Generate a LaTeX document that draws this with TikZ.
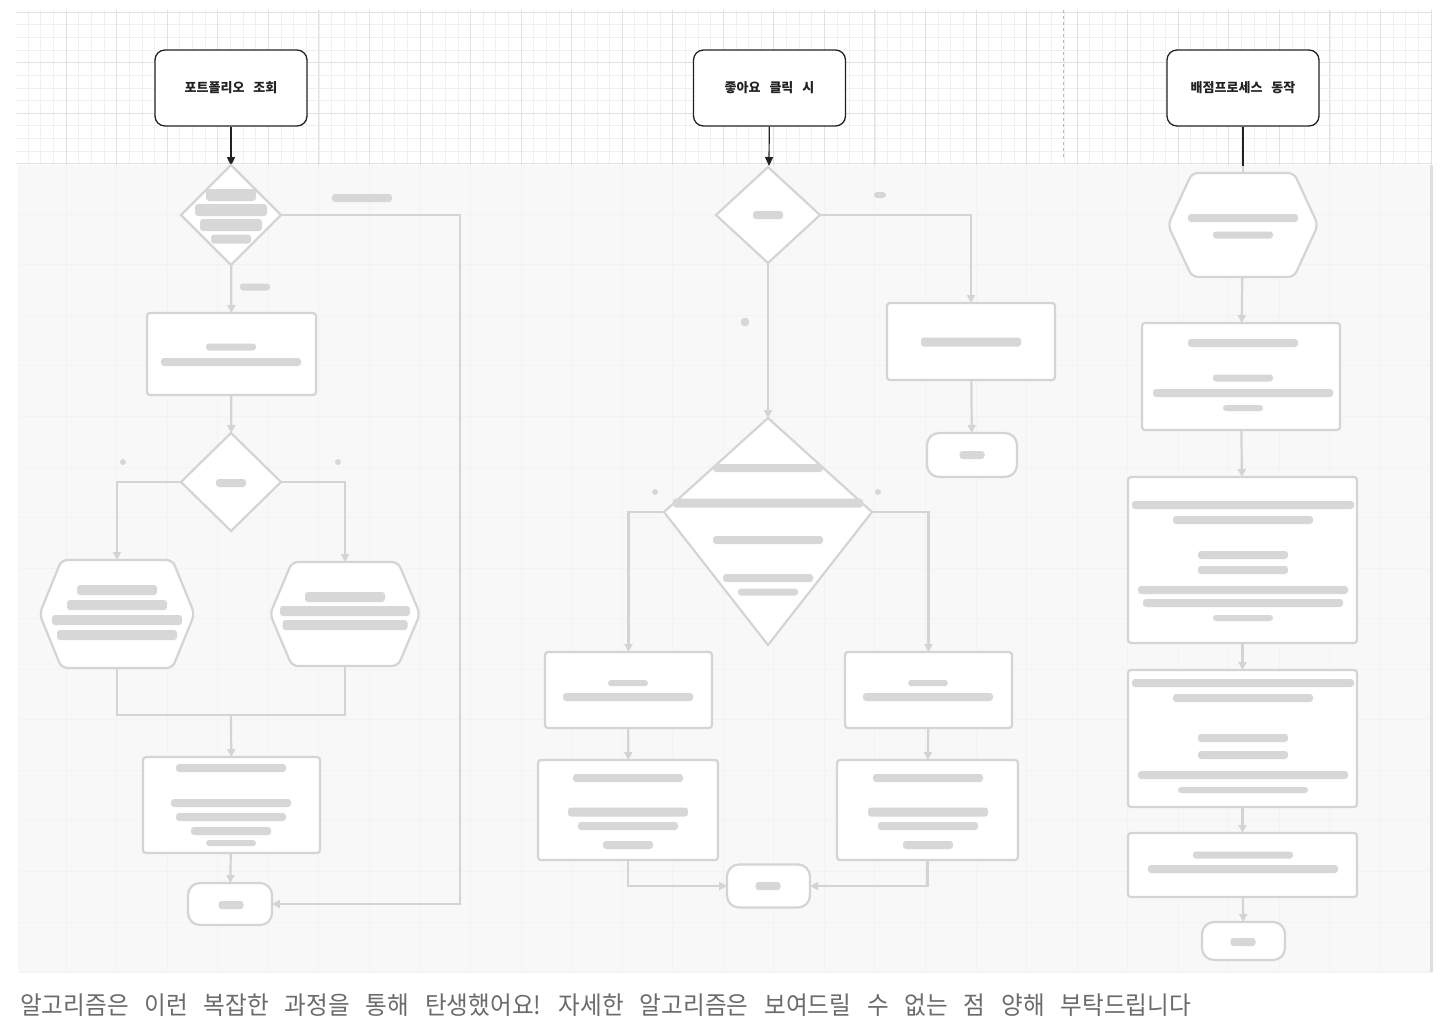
\documentclass[tikz,border=0pt]{standalone}
\usepackage{fontspec}
\newfontfamily\kr[WordSpace=3]{Noto Sans CJK KR}
\usetikzlibrary{arrows.meta,shapes.geometric}
\definecolor{gridminor}{HTML}{F0F0F0}
\definecolor{gridmajor}{HTML}{E1E1E1}
\definecolor{panel}{HTML}{F8F8F8}
\definecolor{panelgrid}{HTML}{F3F3F3}
\definecolor{faint}{HTML}{D4D4D4}
\definecolor{smudge}{HTML}{D7D7D7}
\definecolor{capgray}{HTML}{6B6B6B}
\definecolor{ink}{HTML}{222222}
\newcommand\smudge[4]{\fill[smudge,rounded corners=3pt] ({#1-#3/2},{#2-#4/2}) rectangle ++(#3,#4);}
\newcommand\hexpath[5]{\draw[fshape,rounded corners=6pt] ({#1-#3},#2) -- ({#1-#3+#5},{#2-#4}) -- ({#1+#3-#5},{#2-#4}) -- ({#1+#3},#2) -- ({#1+#3-#5},{#2+#4}) -- ({#1-#3+#5},{#2+#4}) -- cycle;}
\begin{document}
\begin{tikzpicture}[x=1pt,y=-1pt,
  topbox/.style={draw=ink, line width=1.3pt, rounded corners=10pt, fill=white,
    minimum width=152pt, minimum height=76pt, inner sep=0pt,
    font=\kr\bfseries\fontsize{13}{15}\selectfont, text=ink},
  arr/.style={draw=ink, line width=1.2pt, -{Triangle[length=9pt,width=8pt]}},
  fshape/.style={draw=faint, line width=2.2pt, fill=white},
  frect/.style={fshape, rectangle, rounded corners=3pt, inner sep=0pt, outer sep=0pt},
  fterm/.style={fshape, rectangle, rounded corners=12pt, inner sep=0pt, outer sep=0pt},
  fdia/.style={fshape, diamond, inner sep=0pt, outer sep=0pt},
  hexnode/.style={rectangle, draw=none, inner sep=0pt, outer sep=0pt},
  fline/.style={draw=faint, line width=2.2pt},
  farr/.style={fline, -{Triangle[length=8pt,width=8pt]}},
]
\useasboundingbox[fill=white] (0,0) rectangle (1444,1026);

% grid on top
\begin{scope}
\clip (16,10) rectangle (1432,165);
\foreach \i in {0,...,112} {\draw[gridminor, line width=0.6pt] ({15.5+\i*12.6375},10) -- ++(0,160);}
\foreach \i in {0,...,12} {\draw[gridminor, line width=0.6pt] (16,{12+\i*12.6375}) -- ++(1420,0);}
\foreach \i in {0,...,28} {\draw[gridmajor, line width=0.8pt] ({15.5+\i*50.55},10) -- ++(0,160);}
\foreach \i in {0,...,3} {\draw[gridmajor, line width=0.8pt] (16,{12+\i*50.55}) -- ++(1420,0);}
\end{scope}
\draw[gray!55, dashed, line width=0.8pt] (1063,10) -- (1063,160);

% blurred panel
\fill[panel] (18,165) rectangle (1432,972);
\begin{scope}
\clip (18,165) rectangle (1432,972);
\foreach \i in {0,...,28} {\draw[panelgrid, line width=0.8pt] ({15.5+\i*50.55},165) -- ++(0,810);}
\foreach \i in {3,...,19} {\draw[panelgrid, line width=0.8pt] (16,{12+\i*50.55}) -- ++(1420,0);}
\end{scope}
\draw[gray!25, line width=3pt] (1431,165) -- (1431,972);

% top nodes
\node[topbox] (t1) at (231,88) {포트폴리오 조회};
\node[topbox] (t2) at (769.5,88) {좋아요 클릭 시};
\node[topbox] (t3) at (1243,88) {배점프로세스 동작};
\coordinate (e1) at (231,166);
\coordinate (e2) at (769,166);
\coordinate (e3) at (1243,166);
\draw[arr] (t1) -- (e1);
\draw[arr] (t2) -- (e2);
\draw[draw=ink, line width=1.2pt] (t3) -- (e3);

% ---------- column 1 ----------
\node[fdia, minimum width=100pt, minimum height=100pt] (d1) at (231,215) {};
\node[frect, minimum width=169pt, minimum height=82pt] (r1) at (231.5,354) {};
\node[fdia, minimum width=100pt, minimum height=98pt] (d2) at (231,482) {};
\node[hexnode, minimum width=155pt, minimum height=108pt] (h1) at (117,614) {};
\node[hexnode, minimum width=150pt, minimum height=104pt] (h2) at (345,614) {};
\hexpath{117}{614}{77.5}{54}{22}
\hexpath{345}{614}{75}{52}{22}
\node[frect, minimum width=177pt, minimum height=96pt] (r2) at (231.5,805) {};
\node[fterm, minimum width=84pt, minimum height=42pt] (m1) at (230,904) {};
\coordinate (j1) at (231,715);
\draw[farr] (d1) -- (r1);
\draw[farr] (r1) -- (d2);
\draw[farr] (d2.west) -| (h1.north);
\draw[farr] (d2.east) -| (h2.north);
\draw[fline] (h1.south) |- (j1) -| (h2.south);
\draw[farr] (j1) -- (r2);
\draw[farr] (r2) -- (m1);
\draw[farr] (d1.east) -- (460,215) |- (m1.east);

% ---------- column 2 ----------
\node[fdia, minimum width=104pt, minimum height=96pt] (d3) at (768,215) {};
\node[frect, minimum width=168pt, minimum height=77pt] (r3) at (971,341.5) {};
\node[fterm, minimum width=90pt, minimum height=44pt] (m2) at (972,455) {};
\coordinate (d4t) at (768,418);
\coordinate (d4r) at (872,512);
\coordinate (d4b) at (768,645);
\coordinate (d4l) at (664,512);
\draw[fshape] (d4t) -- (d4r) -- (d4b) -- (d4l) -- cycle;
\node[frect, minimum width=167pt, minimum height=76pt] (r4) at (628.5,690) {};
\node[frect, minimum width=167pt, minimum height=76pt] (r5) at (928.5,690) {};
\node[frect, minimum width=180pt, minimum height=100pt] (r6) at (628,810) {};
\node[frect, minimum width=181pt, minimum height=100pt] (r7) at (927.5,810) {};
\node[fterm, minimum width=83pt, minimum height=43pt] (m3) at (768.5,886) {};
\draw[farr] (d3.east) -| (r3.north);
\draw[farr] (r3) -- (m2);
\draw[farr] (d3.south) -- (d4t);
\draw[farr] (d4l) -| (r4.north);
\draw[farr] (d4r) -| (r5.north);
\draw[farr] (r4) -- (r6);
\draw[farr] (r5) -- (r7);
\draw[farr] (r6.south) |- (m3.west);
\draw[farr] (r7.south) |- (m3.east);

% ---------- column 3 ----------
\node[hexnode, minimum width=150pt, minimum height=104pt] (h3) at (1243,225) {};
\draw[fline] (e3) -- (h3.north);
\hexpath{1243}{225}{75}{52}{24}
\node[frect, minimum width=198pt, minimum height=107pt] (r8) at (1241,376.5) {};
\node[frect, minimum width=229pt, minimum height=166pt] (r9) at (1242.5,560) {};
\node[frect, minimum width=229pt, minimum height=137pt] (r10) at (1242.5,738.5) {};
\node[frect, minimum width=229pt, minimum height=64pt] (r11) at (1242.5,865) {};
\node[fterm, minimum width=83pt, minimum height=38pt] (m4) at (1243.5,941) {};
\draw[farr] (h3) -- (r8);
\draw[farr] (r8) -- (r9);
\draw[farr] (r9) -- (r10);
\draw[farr] (r10) -- (r11);
\draw[farr] (r11) -- (m4);

% ---------- blurred text smudges ----------
\smudge{231}{195}{50}{12}\smudge{231}{210}{72}{12}\smudge{231}{225}{62}{12}\smudge{231}{239}{40}{9}
\smudge{362}{198}{60}{8}\smudge{255}{287}{30}{7}
\smudge{231}{347}{50}{7}\smudge{231}{362}{140}{8}
\smudge{231}{483}{30}{8}\smudge{123}{462}{6}{6}\smudge{338}{462}{6}{6}
\smudge{117}{590}{80}{10}\smudge{117}{605}{100}{10}\smudge{117}{620}{130}{10}\smudge{117}{635}{120}{10}
\smudge{345}{597}{80}{10}\smudge{345}{611}{130}{10}\smudge{345}{625}{125}{10}
\smudge{231}{768}{110}{8}\smudge{231}{803}{120}{8}\smudge{231}{817}{110}{8}\smudge{231}{831}{80}{8}\smudge{231}{843}{50}{6}
\smudge{231}{905}{25}{8}
\smudge{768}{215}{30}{8}\smudge{880}{195}{12}{6}\smudge{745}{322}{8}{8}
\smudge{971}{342}{100}{9}\smudge{972}{455}{25}{8}
\smudge{768}{468}{110}{8}\smudge{768}{503}{190}{9}\smudge{768}{540}{110}{8}\smudge{768}{578}{90}{8}\smudge{768}{592}{60}{7}
\smudge{655}{492}{6}{6}\smudge{878}{492}{6}{6}
\smudge{628}{683}{40}{6}\smudge{628}{697}{130}{8}\smudge{928}{683}{40}{6}\smudge{928}{697}{130}{8}
\smudge{628}{778}{110}{8}\smudge{628}{812}{120}{9}\smudge{628}{826}{100}{8}\smudge{628}{845}{50}{8}
\smudge{928}{778}{110}{8}\smudge{928}{812}{120}{9}\smudge{928}{826}{100}{8}\smudge{928}{845}{50}{8}
\smudge{768}{886}{25}{8}
\smudge{1243}{218}{110}{8}\smudge{1243}{235}{60}{7}
\smudge{1243}{343}{110}{8}\smudge{1243}{378}{60}{7}\smudge{1243}{393}{180}{8}\smudge{1243}{408}{40}{6}
\smudge{1243}{505}{222}{8}\smudge{1243}{520}{140}{8}\smudge{1243}{555}{90}{8}\smudge{1243}{570}{90}{8}\smudge{1243}{590}{210}{8}\smudge{1243}{603}{200}{8}\smudge{1243}{618}{60}{6}
\smudge{1243}{683}{222}{8}\smudge{1243}{698}{140}{8}\smudge{1243}{738}{90}{8}\smudge{1243}{755}{90}{8}\smudge{1243}{775}{210}{8}\smudge{1243}{790}{130}{6}
\smudge{1243}{855}{100}{7}\smudge{1243}{869}{190}{8}
\smudge{1243}{942}{25}{8}

% caption
\node[anchor=west, inner sep=0pt, text=capgray, font=\kr\fontsize{25}{30}\selectfont] (cap) at (20,1005)
  {\scalebox{0.944}[1]{알고리즘은 이런 복잡한 과정을 통해 탄생했어요! 자세한 알고리즘은 보여드릴 수 없는 점 양해 부탁드립니다}};
\end{tikzpicture}
\end{document}
